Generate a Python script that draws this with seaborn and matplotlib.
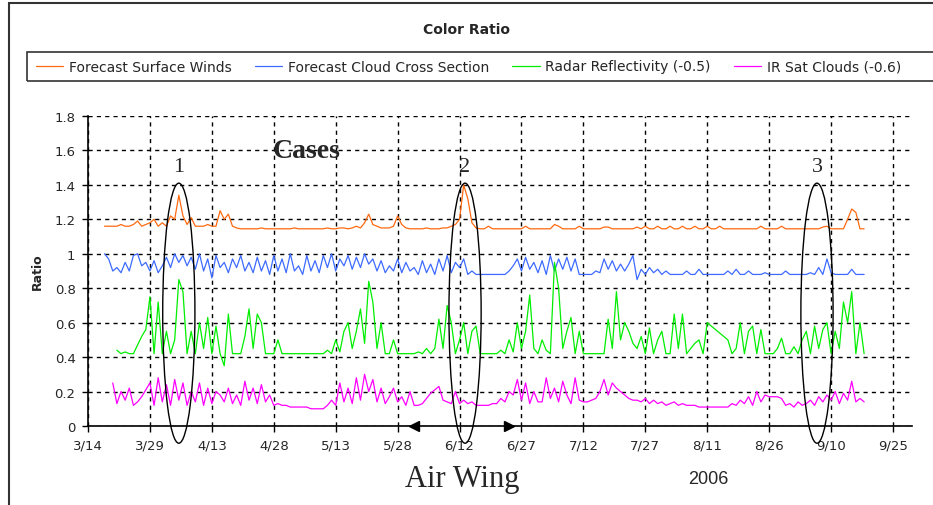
import matplotlib
matplotlib.use("Agg")
import matplotlib.pyplot as plt
import matplotlib.dates as mdates
from matplotlib.patches import Ellipse, Rectangle
import seaborn as sns
import numpy as np
import pandas as pd

nan = np.nan
start_day = "2006-03-18"   # first daily value, series run to 9/18

surface_winds = [
    1.16, 1.16, 1.16, 1.16, 1.17, 1.16, 1.16, 1.17, 1.19, 1.16,
    1.17, 1.18, 1.2, 1.16, 1.18, 1.16, 1.22, 1.2, 1.34, 1.22,
    1.17, 1.21, 1.16, 1.16, 1.16, 1.17, 1.16, 1.16, 1.25, 1.2,
    1.23, 1.16, 1.15, 1.145, 1.145, 1.145, 1.145, 1.145, 1.15, 1.145,
    1.145, 1.145, 1.145, 1.145, 1.145, 1.145, 1.15, 1.145, 1.145, 1.145,
    1.145, 1.145, 1.145, 1.145, 1.15, 1.145, 1.145, 1.15, 1.15, 1.145,
    1.15, 1.16, 1.15, 1.18, 1.23, 1.17, 1.16, 1.15, 1.15, 1.15,
    1.16, 1.22, 1.17, 1.15, 1.145, 1.145, 1.145, 1.145, 1.15, 1.145,
    1.145, 1.145, 1.15, 1.15, 1.16, 1.17, 1.2, 1.4, 1.32, 1.18,
    1.15, 1.145, 1.145, 1.16, 1.145, 1.145, 1.145, 1.145, 1.145, 1.145,
    1.145, 1.145, 1.16, 1.145, 1.145, 1.145, 1.145, 1.145, 1.145, 1.17,
    1.16, 1.145, 1.145, 1.145, 1.145, 1.16, 1.145, 1.145, 1.145, 1.145,
    1.145, 1.155, 1.155, 1.145, 1.145, 1.145, 1.145, 1.145, 1.145, 1.155,
    1.145, 1.16, 1.145, 1.145, 1.16, 1.145, 1.145, 1.16, 1.145, 1.145,
    1.16, 1.145, 1.145, 1.16, 1.145, 1.145, 1.16, 1.145, 1.145, 1.16,
    1.145, 1.145, 1.145, 1.145, 1.145, 1.145, 1.145, 1.145, 1.145, 1.16,
    1.145, 1.145, 1.145, 1.145, 1.16, 1.145, 1.145, 1.145, 1.145, 1.145,
    1.145, 1.145, 1.145, 1.145, 1.155, 1.16, 1.145, 1.145, 1.145, 1.145,
    1.2, 1.26, 1.24, 1.145, 1.145,
]

cloud_cross = [
    1.0, 0.97, 0.9, 0.92, 0.89, 0.95, 0.9, 0.99, 1.0, 0.93,
    0.95, 0.9, 0.96, 0.89, 0.93, 0.98, 0.92, 1.0, 0.95, 0.99,
    0.93, 0.98, 0.91, 1.0, 0.9, 0.97, 0.86, 0.99, 0.92, 0.95,
    0.89, 0.97, 0.92, 0.99, 0.9, 0.95, 0.89, 0.98, 0.9, 0.96,
    0.88, 0.99, 0.9, 0.97, 0.89, 1.0, 0.9, 0.93, 0.88, 0.99,
    0.9, 0.96, 0.89, 0.99, 0.92, 1.0, 0.9, 0.97, 0.93, 0.99,
    0.91, 0.98, 0.92, 1.0, 0.94, 0.97, 0.9, 0.96, 0.89, 0.93,
    0.9, 0.97, 0.89, 0.95, 0.9, 0.92, 0.88, 0.96, 0.89, 0.94,
    0.88, 0.97, 0.9, 0.99, 0.89, 0.95, 0.92, 0.97, 0.88, 0.9,
    0.88, 0.88, 0.88, 0.88, 0.88, 0.88, 0.88, 0.88, 0.9, 0.93,
    0.97, 0.9, 0.98, 0.91, 0.95, 0.89, 0.96, 0.88, 0.99, 0.9,
    0.97, 0.91, 0.98, 0.9, 0.97, 0.88, 0.88, 0.88, 0.88, 0.9,
    0.89, 0.97, 0.91, 0.96, 0.9, 0.94, 0.9, 0.94, 0.99, 0.85,
    0.91, 0.88, 0.92, 0.89, 0.91, 0.88, 0.9, 0.88, 0.88, 0.88,
    0.88, 0.9, 0.88, 0.88, 0.91, 0.88, 0.88, 0.88, 0.88, 0.88,
    0.88, 0.9, 0.88, 0.91, 0.88, 0.88, 0.9, 0.88, 0.88, 0.88,
    0.89, 0.88, 0.88, 0.88, 0.88, 0.9, 0.88, 0.88, 0.88, 0.88,
    0.88, 0.89, 0.88, 0.92, 0.88, 0.97, 0.89, 0.88, 0.88, 0.88,
    0.88, 0.91, 0.88, 0.88, 0.88,
]

radar_refl = [
    nan, nan, nan, 0.44, 0.42, 0.43, 0.42, 0.42, 0.47, 0.52,
    0.56, 0.75, 0.42, 0.72, 0.42, 0.55, 0.42, 0.5, 0.85, 0.78,
    0.42, 0.55, 0.42, 0.6, 0.45, 0.63, 0.42, 0.58, 0.42, 0.35,
    0.65, 0.42, 0.42, 0.42, 0.52, 0.68, 0.45, 0.65, 0.6, 0.42,
    0.42, 0.42, 0.5, 0.42, 0.42, 0.42, 0.42, 0.42, 0.42, 0.42,
    0.42, 0.42, 0.42, 0.42, 0.44, 0.42, 0.5, 0.43, 0.55, 0.6,
    0.45, 0.55, 0.68, 0.48, 0.84, 0.72, 0.45, 0.6, 0.42, 0.42,
    0.5, 0.42, 0.42, 0.42, 0.42, 0.42, 0.43, 0.42, 0.45, 0.42,
    0.45, 0.62, 0.45, 0.7, 0.6, 0.42, 0.5, 0.6, 0.42, 0.55,
    0.58, 0.42, 0.42, 0.42, 0.42, 0.42, 0.44, 0.42, 0.5, 0.43,
    0.6, 0.45, 0.55, 0.76, 0.45, 0.42, 0.5, 0.44, 0.42, 0.95,
    0.8, 0.45, 0.55, 0.63, 0.42, 0.55, 0.42, 0.42, 0.42, 0.42,
    0.42, 0.42, 0.62, 0.45, 0.78, 0.5, 0.6, 0.55, 0.48, 0.45,
    0.52, 0.42, 0.57, 0.42, 0.5, 0.55, 0.42, 0.42, 0.65, 0.45,
    0.65, 0.42, 0.45, 0.48, 0.5, 0.42, 0.6, 0.58, 0.56, 0.54,
    0.52, 0.5, 0.42, 0.45, 0.6, 0.42, 0.55, 0.58, 0.42, 0.56,
    0.42, 0.42, 0.42, 0.45, 0.51, 0.42, 0.42, 0.46, 0.42, 0.5,
    0.55, 0.42, 0.58, 0.45, 0.56, 0.6, 0.42, 0.55, 0.45, 0.72,
    0.6, 0.78, 0.42, 0.6, 0.42,
]

ir_sat = [
    nan, nan, 0.25, 0.13, 0.2, 0.15, 0.22, 0.12, 0.14, 0.17,
    0.21, 0.25, 0.12, 0.28, 0.14, 0.24, 0.12, 0.27, 0.15, 0.25,
    0.12, 0.2, 0.14, 0.25, 0.12, 0.22, 0.13, 0.2, 0.18, 0.14,
    0.22, 0.13, 0.18, 0.12, 0.26, 0.15, 0.22, 0.13, 0.24, 0.14,
    0.18, 0.12, 0.13, 0.12, 0.12, 0.11, 0.11, 0.11, 0.11, 0.11,
    0.1, 0.1, 0.1, 0.1, 0.12, 0.15, 0.12, 0.25, 0.14, 0.22,
    0.13, 0.28, 0.15, 0.3, 0.2, 0.27, 0.14, 0.22, 0.13, 0.17,
    0.22, 0.14, 0.17, 0.12, 0.2, 0.12, 0.12, 0.13, 0.16, 0.19,
    0.21, 0.23, 0.15, 0.14, 0.13, 0.2, 0.13, 0.15, 0.13, 0.14,
    0.12, 0.12, 0.12, 0.12, 0.13, 0.13, 0.16, 0.14, 0.2, 0.18,
    0.27, 0.15, 0.25, 0.13, 0.2, 0.14, 0.14, 0.28, 0.16, 0.22,
    0.14, 0.26, 0.18, 0.13, 0.28, 0.15, 0.14, 0.14, 0.15, 0.16,
    0.2, 0.27, 0.18, 0.25, 0.22, 0.2, 0.18, 0.16, 0.15, 0.15,
    0.14, 0.16, 0.13, 0.15, 0.13, 0.14, 0.12, 0.13, 0.14, 0.12,
    0.13, 0.12, 0.12, 0.12, 0.11, 0.11, 0.11, 0.11, 0.11, 0.11,
    0.11, 0.11, 0.13, 0.12, 0.15, 0.13, 0.17, 0.12, 0.2, 0.14,
    0.18, 0.17, 0.17, 0.17, 0.16, 0.12, 0.13, 0.11, 0.14, 0.12,
    0.13, 0.15, 0.12, 0.17, 0.14, 0.18, 0.15, 0.2, 0.13, 0.19,
    0.15, 0.26, 0.14, 0.16, 0.14,
]

series_names = ["Forecast Surface Winds", "Forecast Cloud Cross Section",
                "Radar Reflectivity (-0.5)", "IR Sat Clouds (-0.6)"]
series_values = [surface_winds, cloud_cross, radar_refl, ir_sat]
series_colors = ["#FF6A10", "#3D6BFF", "#00EE00", "#FF00FF"]

tick_labels = ["3/14", "3/29", "4/13", "4/28", "5/13", "5/28", "6/12",
               "6/27", "7/12", "7/27", "8/11", "8/26", "9/10", "9/25"]
y_ticks = [0, 0.2, 0.4, 0.6, 0.8, 1.0, 1.2, 1.4, 1.6, 1.8]

# the three circled cases
case_labels = ["1", "2", "3"]
case_dates = ["2006-04-05", "2006-06-13 08:00", "2006-09-06 14:00"]

# long form table
frames = []
for name, vals in zip(series_names, series_values):
    frames.append(pd.DataFrame({
        "date": pd.date_range(start_day, periods=len(vals), freq="D"),
        "ratio": vals,
        "series": name,
    }))
df = pd.concat(frames, ignore_index=True).dropna()

sns.set_style("ticks")
plt.rcParams["font.family"] = ["DejaVu Sans"]

fig = plt.figure(figsize=(9.33, 5.06), dpi=100)
ax = fig.add_axes([88 / 933, 1 - 427 / 506, (912 - 88) / 933, (427 - 117) / 506])

sns.lineplot(data=df, x="date", y="ratio", hue="series", hue_order=series_names,
             palette=dict(zip(series_names, series_colors)), estimator=None,
             linewidth=0.9, ax=ax)
handles, labels = ax.get_legend_handles_labels()
ax.get_legend().remove()

tick_dates = [pd.Timestamp("2006/" + t) for t in tick_labels]
ax.set_xlim(pd.Timestamp("2006-03-14"), pd.Timestamp("2006-03-14") + pd.Timedelta(days=199.6))
ax.set_ylim(0, 1.8)
ax.set_xticks(tick_dates)
ax.set_xticklabels(tick_labels, fontsize=9.5)
ax.set_yticks(y_ticks)
ax.set_yticklabels([f"{v:g}" for v in y_ticks], fontsize=9.5)
ax.tick_params(direction="out", length=4, width=1, color="black", pad=5)
ax.grid(True, color="black", linestyle=(0, (3, 3)), linewidth=1.0)
for s in ["top", "right"]:
    ax.spines[s].set_visible(False)
for s in ["left", "bottom"]:
    ax.spines[s].set_color("black")
    ax.spines[s].set_linewidth(1.2)
ax.set_xlabel("")
ax.set_ylabel("Ratio", fontsize=9, fontweight="bold")
ax.yaxis.set_label_coords(-0.054, 0.5)

# case ellipses
for lab, d in zip(case_labels, case_dates):
    xc = mdates.date2num(pd.Timestamp(d))
    ax.add_patch(Ellipse((xc, 0.655), width=7.8, height=1.51, fill=False,
                         edgecolor="black", linewidth=1.0, clip_on=False, zorder=5))
    ax.text(xc, 1.505, lab, ha="center", va="center", fontsize=16,
            family="Liberation Serif")
ax.text(pd.Timestamp("2006-05-06"), 1.6, "Cases", ha="center", va="center",
        fontsize=20, fontweight="bold", family="Liberation Serif")

# arrowheads on the axis
ax.plot([pd.Timestamp("2006-06-01")], [0], marker="<", color="black", ms=7, clip_on=False, zorder=6)
ax.plot([pd.Timestamp("2006-06-24")], [0], marker=">", color="black", ms=7, clip_on=False, zorder=6)

# figure frame and legend box
fig.patches.append(Rectangle((9 / 933, -0.1), 1.2, 1.1 - 4 / 506, transform=fig.transFigure,
                             fill=False, edgecolor="#333333", linewidth=1.5))
fig.patches.append(Rectangle((27 / 933, 1 - 82 / 506), 1.2, 29 / 506, transform=fig.transFigure,
                             fill=False, edgecolor="#333333", linewidth=1.2))
fig.legend(handles, labels, loc="center left", bbox_to_anchor=(30 / 933, 1 - 67.5 / 506),
           ncol=4, frameon=False, fontsize=10, handlelength=2.0, handletextpad=0.4,
           columnspacing=1.65, borderaxespad=0)

fig.text(0.5, 1 - 30 / 506, "Color Ratio", ha="center", va="center",
         fontsize=10, fontweight="bold")
fig.text(462 / 933, 1 - 480 / 506, "Air Wing", ha="center", va="center",
         fontsize=22, family="Liberation Serif")
fig.text(708 / 933, 1 - 480 / 506, "2006", ha="center", va="center",
         fontsize=13, family="Liberation Sans")

plt.savefig("out.png", dpi=100)
